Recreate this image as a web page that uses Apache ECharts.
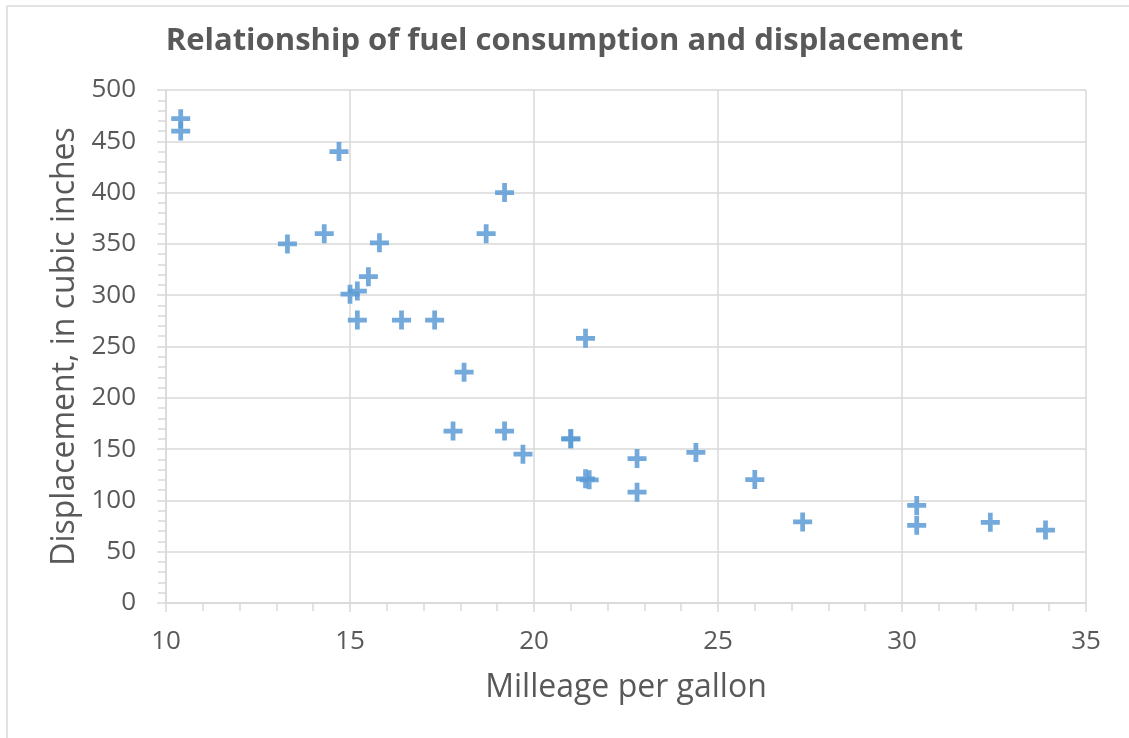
<!DOCTYPE html>
<html>
<head>
<meta charset="utf-8">
<script src="https://cdn.jsdelivr.net/npm/echarts@6/dist/echarts.min.js"></script>
<style>html,body{margin:0;padding:0;background:#fff}#c{width:1129px;height:738px}</style>
</head>
<body>
<div id="c"></div>
<script>
var mpg = [21.0,21.0,22.8,21.4,18.7,18.1,14.3,24.4,22.8,19.2,17.8,16.4,17.3,15.2,10.4,10.4,14.7,32.4,30.4,33.9,21.5,15.5,15.2,13.3,19.2,27.3,26.0,30.4,15.8,19.7,15.0,21.4];
var disp = [160,160,108,258,360,225,360,146.7,140.8,167.6,167.6,275.8,275.8,275.8,472,460,440,78.7,75.7,71.1,120.1,318,304,350,400,79,120.3,95.1,351,145,301,121];
var xTicks = [10,15,20,25,30,35];
var yTicks = [0,50,100,150,200,250,300,350,400,450,500];
var points = mpg.map(function(v,i){return [v, disp[i]];});
var chart = echarts.init(document.getElementById('c'), null, {renderer:'canvas'});
var font = '"Open Sans", "Liberation Sans", sans-serif';
var txt = '#595959';
var lineC = '#d9d9d9';
chart.setOption({
  animation:false,
  backgroundColor:'#fff',
  title:{text:'Relationship of fuel consumption and displacement',left:'center',top:21,
    textStyle:{fontFamily:font,fontSize:31,fontWeight:'bold',color:txt}},
  grid:{left:166,right:43,top:90,bottom:135,containLabel:false},
  xAxis:{type:'value',min:xTicks[0],max:xTicks[xTicks.length-1],interval:5,
    name:'Milleage per gallon',nameLocation:'middle',nameGap:69,
    nameTextStyle:{fontFamily:font,fontSize:32,color:txt},
    axisLine:{show:true,lineStyle:{color:lineC,width:1.5}},
    axisTick:{show:true,inside:false,length:9,lineStyle:{color:lineC,width:1.5}},
    minorTick:{show:true,splitNumber:5,length:8,lineStyle:{color:lineC,width:1.5}},
    splitLine:{show:true,lineStyle:{color:lineC,width:1.5}},
    axisLabel:{fontFamily:font,fontSize:26,color:txt,margin:26}},
  yAxis:{type:'value',min:yTicks[0],max:yTicks[yTicks.length-1],interval:50,
    name:'Displacement, in cubic inches',nameLocation:'middle',nameGap:84,
    nameTextStyle:{fontFamily:font,fontSize:32,color:txt},
    axisLine:{show:true,lineStyle:{color:lineC,width:1.5}},
    axisTick:{show:true,inside:false,length:9,lineStyle:{color:lineC,width:1.5}},
    minorTick:{show:true,splitNumber:5,length:8,lineStyle:{color:lineC,width:1.5}},
    splitLine:{show:true,lineStyle:{color:lineC,width:1.5}},
    axisLabel:{fontFamily:font,fontSize:26,color:txt,margin:30}},
  graphic:[
    {type:'line',shape:{x1:7,y1:6,x2:1129,y2:6},style:{stroke:lineC,lineWidth:1.5},silent:true},
    {type:'line',shape:{x1:7,y1:6,x2:7,y2:738},style:{stroke:lineC,lineWidth:1.5},silent:true}
  ],
  series:[{type:'scatter',data:points,symbol:'path://M0,7.5 H20 V12.5 H0 Z M7.5,0 H12.5 V20 H7.5 Z',symbolSize:19,
    itemStyle:{color:'#5B9BD5',opacity:0.85}}]
});
</script>
</body>
</html>
